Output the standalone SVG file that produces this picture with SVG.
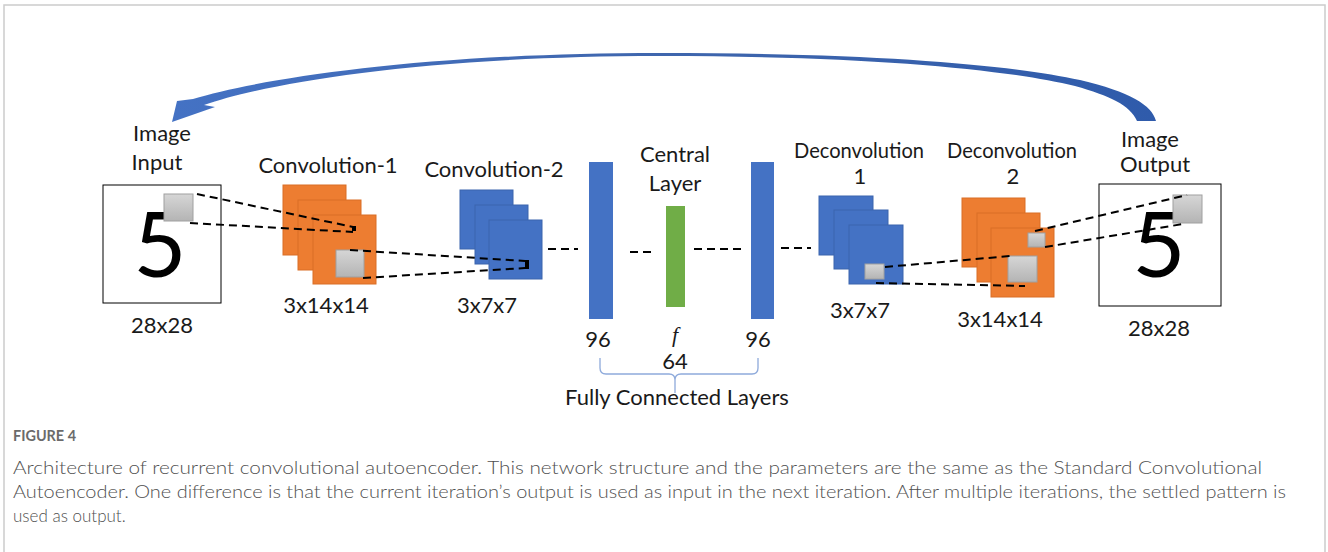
<svg xmlns="http://www.w3.org/2000/svg" width="1328" height="552" viewBox="0 0 1328 552">
<style>
.lbl{font-family:Lato,"Liberation Sans",sans-serif;font-size:22px;fill:#1a1a1a;text-anchor:middle}
.big{font-family:Lato,"Liberation Sans",sans-serif;font-size:92px;fill:#000;text-anchor:middle}
.org{fill:#ED7D31;stroke:#d96f27;stroke-width:1}
.blu{fill:#4472C4;stroke:#3b64ad;stroke-width:1}
.gry{fill:url(#gg);stroke:#a0a0a0;stroke-width:1}
.dash{fill:none;stroke:#000;stroke-width:2;stroke-dasharray:8 5}
.cap{font-family:Lato,"Liberation Sans",sans-serif;fill:#505050;font-size:17px;font-weight:300}
</style>
<defs>
<linearGradient id="gg" x1="0" y1="0" x2="0" y2="1">
<stop offset="0" stop-color="#d6d6d6"/>
<stop offset="1" stop-color="#b4b4b4"/>
</linearGradient>
<linearGradient id="ag" x1="0" y1="0" x2="1" y2="0">
<stop offset="0" stop-color="#4472C4"/>
<stop offset="0.5" stop-color="#3f66ad"/>
<stop offset="1" stop-color="#2f5bab"/>
</linearGradient>
</defs>
<rect width="1328" height="552" fill="#fff"/>
<path d="M4 560 V5 H1325 V560" fill="none" stroke="#cccccc" stroke-width="1.5"/>

<g id="feedback-arrow">
<path d="M172 122 L177 101 L193 99 C260 79 420 53 660 53 C880 53 1010 65 1080 80 C1130 92 1152 105 1156 121 L1137 121 C1130 105 1110 96 1075 86 C1000 68 860 56 660 56 C430 56 270 82 204 105 L215 107 Z" fill="url(#ag)"/>
</g>

<g id="image-input">
<text class="lbl" x="162" y="141">Image</text>
<text class="lbl" x="157" y="170">Input</text>
<rect x="103" y="185" width="118" height="118" fill="#fff" stroke="#000" stroke-width="1"/>
<text class="big" x="160" y="277">5</text>
<rect class="gry" x="164" y="194" width="29" height="27"/>
<text class="lbl" x="162" y="333">28x28</text>
</g>

<g id="conv1">
<text class="lbl" x="328" y="173">Convolution-1</text>
<rect class="org" x="283" y="185" width="63" height="70"/>
<rect class="org" x="298" y="200" width="63" height="70"/>
<rect class="org" x="313" y="215" width="63" height="69"/>
<rect x="352" y="226" width="4" height="5" fill="#000"/>
<rect class="gry" x="336" y="250" width="28" height="27"/>
<text class="lbl" x="326" y="313">3x14x14</text>
</g>

<g id="conv2">
<text class="lbl" x="494" y="177">Convolution-2</text>
<rect class="blu" x="460" y="190" width="53" height="59"/>
<rect class="blu" x="475" y="205" width="53" height="59"/>
<rect class="blu" x="489" y="220" width="53" height="59"/>
<rect x="525" y="260" width="4" height="9" fill="#000"/>
<text class="lbl" x="487" y="313">3x7x7</text>
</g>

<g id="fc1">
<rect x="589" y="162" width="24" height="157" fill="#4472C4"/>
<text class="lbl" x="598" y="347">96</text>
</g>

<g id="central">
<text class="lbl" x="675" y="162">Central</text>
<text class="lbl" x="675" y="191">Layer</text>
<rect x="666" y="206" width="19" height="101" fill="#70AD47"/>
<text x="675" y="342" font-family="'Liberation Serif',serif" font-style="italic" font-size="22" fill="#1a1a1a" text-anchor="middle">f</text>
<text class="lbl" x="675" y="369">64</text>
</g>

<g id="fc2">
<rect x="751" y="162" width="23" height="157" fill="#4472C4"/>
<text class="lbl" x="758" y="347">96</text>
</g>

<g id="fc-brace">
<path d="M600 358 V368 Q600 374 606 374 H669 Q675 374 675 380 V393 M675 380 Q675 374 681 374 H752 Q758 374 758 368 V358" fill="none" stroke="#8eaadb" stroke-width="1.3"/>
<text class="lbl" x="677" y="405">Fully Connected Layers</text>
</g>

<g id="deconv1">
<text class="lbl" x="859" y="158" textLength="130" lengthAdjust="spacingAndGlyphs">Deconvolution</text>
<text class="lbl" x="860" y="184">1</text>
<rect class="blu" x="819" y="196" width="54" height="59"/>
<rect class="blu" x="834" y="210" width="54" height="59"/>
<rect class="blu" x="849" y="225" width="54" height="59"/>
<rect class="gry" x="865" y="264" width="19" height="15"/>
<text class="lbl" x="860" y="318">3x7x7</text>
</g>

<g id="deconv2">
<text class="lbl" x="1012" y="158" textLength="130" lengthAdjust="spacingAndGlyphs">Deconvolution</text>
<text class="lbl" x="1013" y="184">2</text>
<rect class="org" x="962" y="198" width="63" height="69"/>
<rect class="org" x="977" y="213" width="63" height="69"/>
<rect class="org" x="991" y="228" width="63" height="69"/>
<rect class="gry" x="1028" y="233" width="17" height="14"/>
<rect class="gry" x="1008" y="256" width="29" height="26"/>
<text class="lbl" x="1000" y="327">3x14x14</text>
</g>

<g id="image-output">
<text class="lbl" x="1150" y="147">Image</text>
<text class="lbl" x="1155" y="172">Output</text>
<rect x="1099" y="184" width="122" height="122" fill="#fff" stroke="#000" stroke-width="1"/>
<text class="big" x="1159" y="277">5</text>
<rect class="gry" x="1173" y="195" width="29" height="28"/>
<text class="lbl" x="1159" y="336">28x28</text>
</g>

<g id="connectors">
<line class="dash" x1="197" y1="194" x2="353" y2="227"/>
<line class="dash" x1="190" y1="223" x2="353" y2="232"/>
<line class="dash" x1="350" y1="250" x2="525" y2="261"/>
<line class="dash" x1="363" y1="278" x2="525" y2="268"/>
<line class="dash" x1="548" y1="249" x2="578" y2="249"/>
<line class="dash" x1="630" y1="252" x2="652" y2="252"/>
<line class="dash" x1="694" y1="249" x2="741" y2="249"/>
<line class="dash" x1="781" y1="248" x2="811" y2="248"/>
<line class="dash" x1="885" y1="267" x2="1010" y2="256"/>
<line class="dash" x1="876" y1="283" x2="1025" y2="286"/>
<line class="dash" x1="1035" y1="231" x2="1187" y2="195"/>
<line class="dash" x1="1045" y1="247" x2="1183" y2="224"/>
</g>

<g id="caption">
<text x="13" y="441" font-family="Lato,'Liberation Sans',sans-serif" font-size="15" font-weight="bold" fill="#6b6b6b" textLength="63" lengthAdjust="spacingAndGlyphs">FIGURE 4</text>
<text class="cap" x="13" y="474" textLength="1249" lengthAdjust="spacingAndGlyphs">Architecture of recurrent convolutional autoencoder. This network structure and the parameters are the same as the Standard Convolutional</text>
<text class="cap" x="13" y="498" textLength="1273" lengthAdjust="spacingAndGlyphs">Autoencoder. One difference is that the current iteration’s output is used as input in the next iteration. After multiple iterations, the settled pattern is</text>
<text class="cap" x="13" y="522">used as output.</text>
</g>
</svg>
